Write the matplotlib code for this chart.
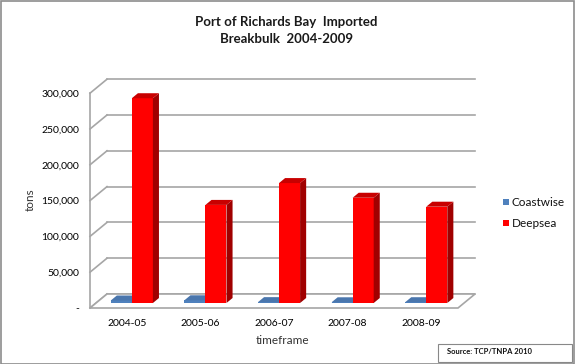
import matplotlib
matplotlib.use("Agg")

import matplotlib.pyplot as plt
from matplotlib.patches import Polygon, Rectangle

# data
periods = ['2004-05', '2005-06', '2006-07', '2007-08', '2008-09']
coastwise = [3500, 3800, 1200, 1000, 1100]
deepsea = [286000, 137000, 167500, 147000, 134500]
y_ticks = [0, 50000, 100000, 150000, 200000, 250000, 300000]
y_tick_labels = ['-', '50,000', '100,000', '150,000', '200,000', '250,000', '300,000']

plt.rcParams['font.family'] = ['Lato', 'DejaVu Sans']

# fake 3d depth (full floor depth in data units)
DX = 0.231
DY = 19550
GRID = '#a6a6a6'


def shift(x, y, d):
    return (x + d * DX, y + d * DY)


def draw_bar(ax, left, width, value, d0, d1, front, side, top):
    """Draw a box bar: front face with ax.bar, side and top as polygons."""
    x0, y0 = shift(left, 0, d0)
    ax.bar(x0, value, width=width, bottom=y0, align='edge', color=front,
           linewidth=0, zorder=3)
    r = left + width
    side_pts = [shift(r, 0, d0), shift(r, value, d0), shift(r, value, d1), shift(r, 0, d1)]
    top_pts = [shift(left, value, d0), shift(r, value, d0), shift(r, value, d1), shift(left, value, d1)]
    ax.add_patch(Polygon(side_pts, closed=True, facecolor=side, linewidth=0, zorder=3))
    ax.add_patch(Polygon(top_pts, closed=True, facecolor=top, linewidth=0, zorder=3))


fig = plt.figure(figsize=(5.75, 3.64), dpi=100)
ax = fig.add_axes([90 / 575, (364 - 308) / 364, 385 / 575, 228.8 / 364])
n = len(periods)
ax.set_xlim(0, n + DX)
ax.set_ylim(0, 300000 + DY)
for s in ax.spines.values():
    s.set_visible(False)

# back wall grid and left wall lines
for v in y_ticks:
    bx, by = shift(0, v, 1)
    ax.plot([bx, n + DX], [by, by], color=GRID, lw=1.2, zorder=1, clip_on=False)
    ax.plot([0, bx], [v, by], color=GRID, lw=1.2, zorder=1, clip_on=False)
ax.plot([0, 0], [0, 300000], color=GRID, lw=1.2, zorder=1, clip_on=False)

# floor
floor = [shift(0, 0, 0), shift(n, 0, 0), shift(n, 0, 1), shift(0, 0, 1)]
ax.add_patch(Polygon(floor, closed=True, facecolor='white', edgecolor=GRID,
                     lw=1.2, zorder=2, clip_on=False))

for i in range(n):
    draw_bar(ax, i + 0.2, 0.286, coastwise[i], 0.357, 0.714,
             '#4f81bd', '#385d8a', '#4a76ad')
    draw_bar(ax, i + 0.486, 0.286, deepsea[i], 0.357, 0.714,
             '#ff0000', '#a00000', '#c80000')

ax.set_yticks(y_ticks)
ax.set_yticklabels(y_tick_labels, fontsize=7.5, color='#000000')
ax.tick_params(axis='y', length=0, pad=8)
ax.set_xticks([i + 0.5 for i in range(n)])
ax.set_xticklabels(periods, fontsize=7.5, color='#000000')
ax.tick_params(axis='x', length=0, pad=8)
ax.set_xlabel('timeframe', fontsize=8.5, color='#333333', labelpad=5)

fig.text(30 / 575, 1 - 200 / 364, 'tons', rotation=90, fontsize=8.5,
         color='#333333', ha='center', va='center')

fig.text(286 / 575, 1 - 22 / 364, 'Port of Richards Bay  Imported', fontsize=9.5,
         fontweight='bold', color='#1a1a1a', ha='center', va='center')
fig.text(286 / 575, 1 - 39 / 364, 'Breakbulk  2004-2009', fontsize=9.5,
         fontweight='bold', color='#1a1a1a', ha='center', va='center')

# legend
fig.patches.append(Rectangle((503 / 575, 1 - 205 / 364), 6 / 575, 6 / 364,
                             transform=fig.transFigure, facecolor='#4f81bd'))
fig.text(512 / 575, 1 - 202 / 364, 'Coastwise', fontsize=8.5, color='#111111',
         va='center')
fig.patches.append(Rectangle((503 / 575, 1 - 226 / 364), 6 / 575, 6 / 364,
                             transform=fig.transFigure, facecolor='#ff0000'))
fig.text(512 / 575, 1 - 223 / 364, 'Deepsea', fontsize=8.5, color='#111111',
         va='center')

# source box
fig.patches.append(Rectangle((438 / 575, 2 / 364), 134 / 575, 18 / 364,
                             transform=fig.transFigure, facecolor='white',
                             edgecolor='#888888', lw=0.8))
fig.text(447 / 575, 1 - 352 / 364, 'Source: TCP/TNPA 2010', fontsize=5.5,
         fontweight='bold', color='#111111', va='center')

# outer border
fig.patches.append(Rectangle((0.5 / 575, 0.5 / 364), 573.5 / 575, 362.5 / 364,
                             transform=fig.transFigure, facecolor='none',
                             edgecolor='#8c8c8c', lw=1.2))

fig.savefig('out.png', dpi=100)
